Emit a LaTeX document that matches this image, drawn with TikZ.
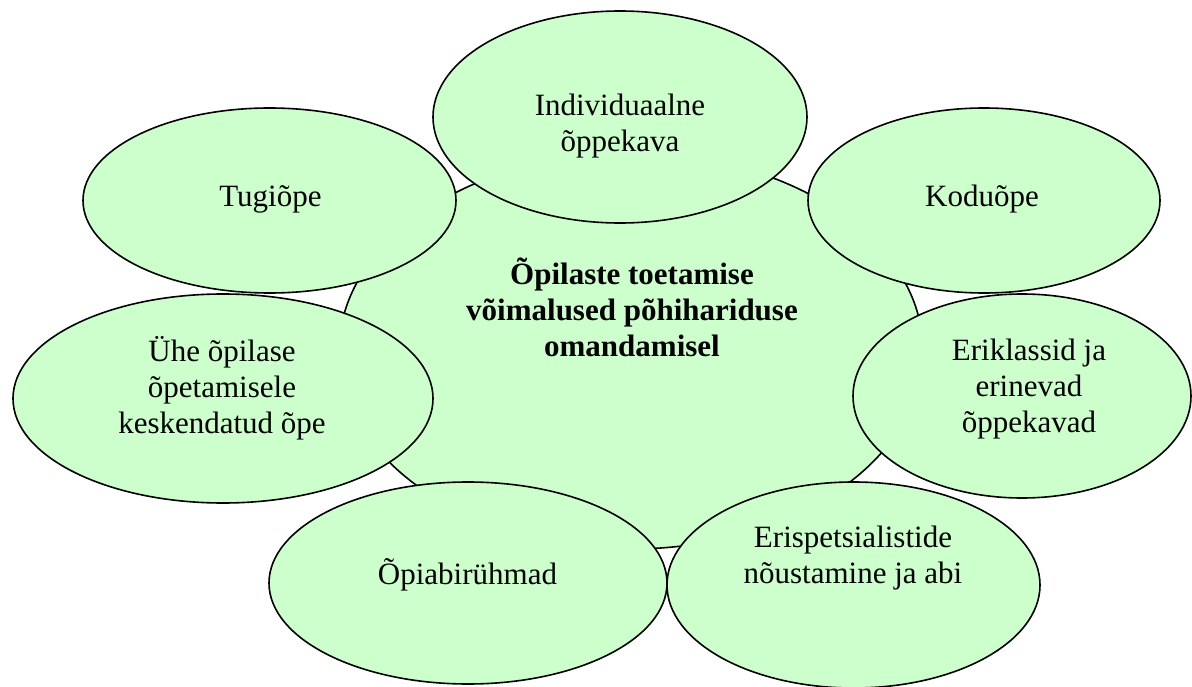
\documentclass[tikz,border=0pt]{standalone}
\usepackage{fontspec}
\setmainfont{Liberation Serif}
\usetikzlibrary{shapes.geometric}
\definecolor{bubfill}{HTML}{CCFFCC}
\tikzset{
  bub/.style={ellipse, draw=black, line width=1.6pt, fill=bubfill, inner sep=0pt},
  lbl/.style={anchor=base, align=center, inner sep=0pt, font=\fontsize{31}{36}\selectfont},
  lblb/.style={lbl, font=\fontsize{31}{36}\selectfont\bfseries}
}
\begin{document}
\begin{tikzpicture}[x=1pt,y=-1pt]
\path[use as bounding box] (0,0) rectangle (1192,687);
% central ellipse
\node[bub, minimum width=584pt, minimum height=396pt] (c) at (631,351) {};
% surrounding ellipses
\node[bub, minimum width=374pt, minimum height=212pt] (ind) at (620,117) {};
\node[bub, minimum width=373pt, minimum height=185pt] (tug) at (269.5,200.5) {};
\node[bub, minimum width=352pt, minimum height=185pt] (kod) at (984,200.5) {};
\node[bub, minimum width=420pt, minimum height=209pt] (uhe) at (223,398.5) {};
\node[bub, minimum width=338pt, minimum height=204pt] (erk) at (1022,396) {};
\node[bub, minimum width=398pt, minimum height=202pt] (opi) at (468,583) {};
\node[bub, minimum width=373pt, minimum height=206pt] (esp) at (853.5,585) {};
% labels (anchor base = baseline of last line)
\node[lblb] (tc) at (632,356) {Õpilaste toetamise\\võimalused põhihariduse\\omandamisel};
\node[lbl] (tind) at (620,152) {Individuaalne\\õppekava};
\node[lbl] (ttug) at (270.5,207) {Tugiõpe};
\node[lbl] (tkod) at (982,207) {Koduõpe};
\node[lbl] (tuhe) at (222,433) {Ühe õpilase\\õpetamisele\\keskendatud õpe};
\node[lbl] (terk) at (1029,432) {Eriklassid ja\\erinevad\\õppekavad};
\node[lbl] (topi) at (467.5,584) {Õpiabirühmad};
\node[lbl] (tesp) at (853,583) {Erispetsialistide\\nõustamine ja abi};
\end{tikzpicture}
\end{document}
